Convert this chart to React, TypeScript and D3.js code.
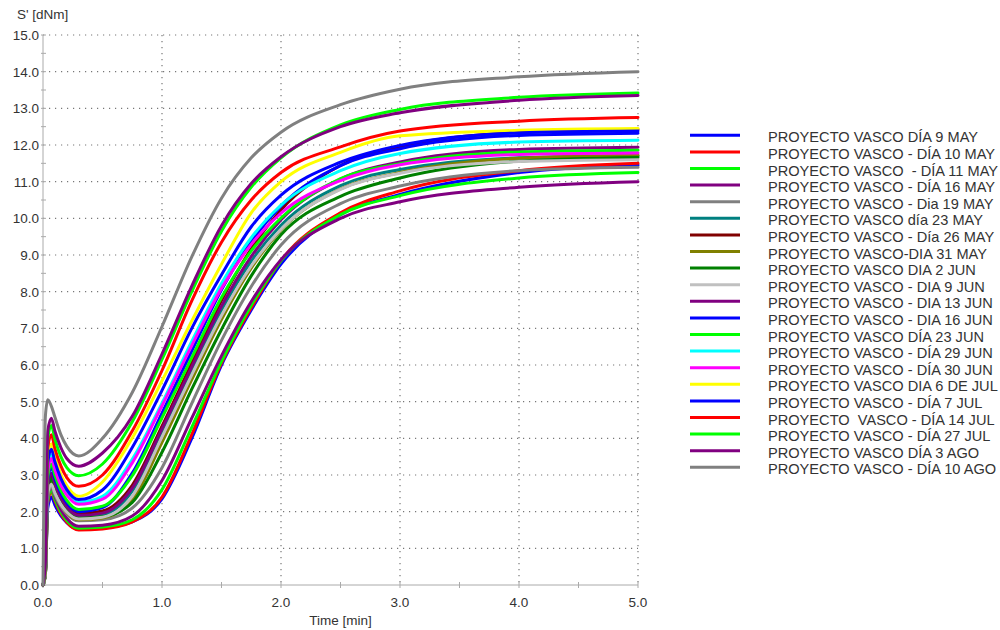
import React from "react";
import * as d3 from "d3";

// time grid (min) shared by every curve
const times = [0, 0.02, 0.04, 0.07, 0.1, 0.15, 0.2, 0.3, 0.5, 0.75, 1.0, 1.25, 1.5, 1.75, 2.0, 2.5, 3.0, 4.0, 5.0];

// S' [dNm], one array per test
const dia9May = [0, 0.3, 2.1, 2.4, 2.18, 1.89, 1.7, 1.52, 1.55, 1.72, 2.35, 4.0, 6.0, 7.5, 8.75, 10.1, 10.65, 11.25, 11.45];
const dia10May = [0, 0.3, 2.25, 2.55, 2.29, 1.94, 1.71, 1.5, 1.53, 1.72, 2.4, 4.1, 6.05, 7.56, 8.85, 10.15, 10.75, 11.3, 11.5];
const dia11May = [0, 0.3, 2.3, 2.6, 2.34, 1.99, 1.76, 1.55, 1.58, 1.78, 2.6, 4.3, 6.1, 7.63, 8.84, 10.1, 10.62, 11.1, 11.25];
const dia16May = [0, 0.3, 2.4, 2.7, 2.42, 2.06, 1.82, 1.6, 1.63, 1.88, 2.85, 4.55, 6.25, 7.73, 8.87, 10.0, 10.45, 10.85, 11.0];
const dia19May = [0, 0.3, 2.4, 2.7, 2.46, 2.15, 1.94, 1.75, 1.78, 2.1, 3.2, 4.95, 6.67, 8.14, 9.27, 10.4, 10.88, 11.3, 11.39];
const dia23May = [0, 0.35, 2.6, 2.9, 2.64, 2.29, 2.06, 1.85, 1.91, 2.56, 4.18, 5.87, 7.49, 8.83, 9.81, 10.89, 11.33, 11.65, 11.7];
const dia26May = [0, 0.35, 2.65, 2.95, 2.7, 2.37, 2.15, 1.95, 2.02, 2.72, 4.33, 6.05, 7.76, 9.17, 10.23, 11.44, 11.96, 12.34, 12.42];
const dia31May = [0, 0.3, 2.5, 2.8, 2.55, 2.21, 1.98, 1.78, 1.83, 2.32, 3.89, 5.6, 7.24, 8.64, 9.68, 10.8, 11.25, 11.64, 11.72];
const dia2Jun = [0, 0.3, 2.6, 2.9, 2.63, 2.28, 2.04, 1.83, 1.86, 2.25, 3.62, 5.34, 6.97, 8.43, 9.55, 10.6, 11.1, 11.56, 11.66];
const dia9Jun = [0, 0.3, 2.5, 2.75, 2.51, 2.2, 1.99, 1.8, 1.85, 2.42, 4.04, 5.73, 7.35, 8.7, 9.7, 10.79, 11.23, 11.55, 11.6];
const dia13Jun = [0, 0.35, 2.75, 3.05, 2.76, 2.38, 2.13, 1.9, 1.96, 2.64, 4.26, 5.95, 7.6, 8.96, 9.96, 11.07, 11.54, 11.88, 11.94];
const dia16Jun = [0, 0.4, 2.9, 3.2, 2.9, 2.5, 2.24, 2.0, 2.11, 3.05, 4.69, 6.38, 8.05, 9.37, 10.34, 11.44, 11.9, 12.26, 12.32];
const dia23Jun = [0, 0.4, 2.95, 3.3, 2.99, 2.58, 2.31, 2.06, 2.15, 2.98, 4.56, 6.2, 7.84, 9.11, 10.01, 11.08, 11.49, 11.81, 11.86];
const dia29Jun = [0, 0.5, 3.2, 3.55, 3.23, 2.8, 2.52, 2.26, 2.42, 3.43, 4.96, 6.64, 8.22, 9.47, 10.36, 11.3, 11.77, 12.08, 12.13];
const dia30Jun = [0, 0.45, 3.1, 3.45, 3.14, 2.72, 2.45, 2.2, 2.34, 3.33, 4.89, 6.53, 8.09, 9.29, 10.14, 11.03, 11.46, 11.74, 11.78];
const dia6Jul = [0, 0.4, 3.5, 3.85, 3.49, 3.02, 2.71, 2.42, 2.81, 4.01, 5.57, 7.2, 8.75, 10.15, 11.0, 11.8, 12.25, 12.4, 12.45];
const dia7Jul = [0, 0.5, 3.35, 3.7, 3.36, 2.91, 2.6, 2.33, 2.59, 3.75, 5.31, 7.0, 8.46, 9.77, 10.63, 11.53, 11.99, 12.33, 12.38];
const dia14Jul = [0, 0.5, 3.75, 4.1, 3.72, 3.25, 2.93, 2.69, 3.0, 4.2, 5.85, 7.75, 9.35, 10.5, 11.25, 11.95, 12.38, 12.65, 12.75];
const dia27Jul = [0, 0.5, 4.0, 4.35, 3.98, 3.5, 3.2, 2.98, 3.3, 4.45, 6.15, 8.0, 9.65, 10.85, 11.65, 12.55, 12.97, 13.3, 13.42];
const dia3Ago = [0, 0.6, 4.2, 4.55, 4.2, 3.75, 3.45, 3.24, 3.6, 4.6, 6.3, 8.15, 9.8, 10.95, 11.68, 12.5, 12.88, 13.22, 13.35];
const dia10Ago = [0, 4.6, 5.05, 4.88, 4.58, 4.1, 3.78, 3.52, 4.0, 5.25, 7.05, 8.95, 10.55, 11.65, 12.35, 13.1, 13.52, 13.86, 14.0];

const labels = [
  "PROYECTO VASCO DÍA 9 MAY",
  "PROYECTO VASCO - DÍA 10 MAY",
  "PROYECTO VASCO  - DÍA 11 MAY",
  "PROYECTO VASCO - DÍA 16 MAY",
  "PROYECTO VASCO - Dia 19 MAY",
  "PROYECTO VASCO día 23 MAY",
  "PROYECTO VASCO - Día 26 MAY",
  "PROYECTO VASCO-DIA 31 MAY",
  "PROYECTO VASCO DIA 2 JUN",
  "PROYECTO VASCO - DIA 9 JUN",
  "PROYECTO VASCO - DIA 13 JUN",
  "PROYECTO VASCO - DIA 16 JUN",
  "PROYECTO VASCO DÍA 23 JUN",
  "PROYECTO VASCO - DÍA 29 JUN",
  "PROYECTO VASCO - DÍA 30 JUN",
  "PROYECTO VASCO DIA 6 DE JUL",
  "PROYECTO VASCO - DÍA 7 JUL",
  "PROYECTO  VASCO - DÍA 14 JUL",
  "PROYECTO VASCO - DÍA 27 JUL",
  "PROYECTO VASCO DÍA 3 AGO",
  "PROYECTO VASCO - DÍA 10 AGO",
];

const colors = [
  "#0000ff", "#ff0000", "#00ff00", "#800080", "#808080", "#008080", "#800000",
  "#808000", "#008000", "#c0c0c0", "#800080", "#0000ff", "#00ff00", "#00ffff",
  "#ff00ff", "#ffff00", "#0000ff", "#ff0000", "#00ff00", "#800080", "#808080",
];

const values = [
  dia9May, dia10May, dia11May, dia16May, dia19May, dia23May, dia26May, dia31May,
  dia2Jun, dia9Jun, dia13Jun, dia16Jun, dia23Jun, dia29Jun, dia30Jun, dia6Jul,
  dia7Jul, dia14Jul, dia27Jul, dia3Ago, dia10Ago,
];

const xTicks = [0, 1, 2, 3, 4, 5];
const yTicks = [0, 1, 2, 3, 4, 5, 6, 7, 8, 9, 10, 11, 12, 13, 14, 15];

const font = "'Liberation Sans', Arial, Helvetica, sans-serif";

export default function App() {
  const width = 1000;
  const height = 630;
  const left = 43;
  const right = 638;
  const top = 35;
  const bottom = 585;

  const x = d3.scaleLinear().domain([0, 5]).range([left, right]);
  const y = d3.scaleLinear().domain([0, 15]).range([bottom, top]);

  const line = d3
    .line<[number, number]>()
    .x((d) => x(d[0]))
    .y((d) => y(d[1]))
    .curve(d3.curveMonotoneX);

  const minorX = d3.range(0, 5.01, 0.5);
  const minorY = d3.range(0, 15.01, 0.5);

  const legendX = 690;
  const legendY = 135.3;
  const rowH = 16.6;

  return (
    <svg
      width={width}
      height={height}
      style={{ position: "absolute", left: 0, top: 0, background: "#fff" }}
      fontFamily={font}
    >
      <rect width={width} height={height} fill="#fff" />

      {/* dotted grid */}
      {xTicks.filter((t) => t > 0).map((t) => (
        <line key={"gx" + t} x1={x(t)} x2={x(t)} y1={top} y2={bottom}
          stroke="#777" strokeWidth={1.2} strokeDasharray="1.2,4.8" />
      ))}
      {yTicks.filter((t) => t > 0).map((t) => (
        <line key={"gy" + t} x1={left} x2={right} y1={y(t)} y2={y(t)}
          stroke="#777" strokeWidth={1.2} strokeDasharray="1.2,4.8" />
      ))}

      {/* axes */}
      <line x1={left} x2={left} y1={top} y2={bottom} stroke="#aaa" />
      <line x1={left} x2={right} y1={bottom} y2={bottom} stroke="#aaa" />
      {minorX.map((t) => (
        <line key={"tx" + t} x1={x(t)} x2={x(t)} y1={bottom - 3} y2={bottom + 3} stroke="#aaa" />
      ))}
      {minorY.map((t) => (
        <line key={"ty" + t} x1={left - 2} x2={left + 3} y1={y(t)} y2={y(t)} stroke="#aaa" />
      ))}

      {/* tick labels */}
      {yTicks.map((t) => (
        <text key={"ly" + t} x={left - 4} y={y(t)} dy="0.36em" textAnchor="end"
          fontSize={13.5} fill="#333">{t.toFixed(1)}</text>
      ))}
      {xTicks.map((t) => (
        <text key={"lx" + t} x={x(t)} y={607} textAnchor="middle"
          fontSize={13.5} fill="#333">{t.toFixed(1)}</text>
      ))}
      <text x={17} y={19} fontSize={13.5} fill="#333">S' [dNm]</text>
      <text x={(left + right) / 2} y={625} textAnchor="middle" fontSize={13.5} fill="#333">
        Time [min]
      </text>

      {/* curves, drawn in legend order */}
      <g fill="none" strokeWidth={3} strokeLinejoin="round" strokeLinecap="round">
        {values.map((vals, i) => (
          <path key={"c" + i} d={line(times.map((t, j) => [t, vals[j]]) as [number, number][]) || ""}
            stroke={colors[i]} />
        ))}
      </g>

      {/* legend */}
      {labels.map((lab, i) => (
        <g key={"lg" + i}>
          <line x1={legendX} x2={legendX + 50} y1={legendY + i * rowH} y2={legendY + i * rowH}
            stroke={colors[i]} strokeWidth={3} />
          <text x={768} y={legendY + i * rowH + 7} fontSize={14.6} fill="#333"
            style={{ whiteSpace: "pre" }}>{lab}</text>
        </g>
      ))}
    </svg>
  );
}
